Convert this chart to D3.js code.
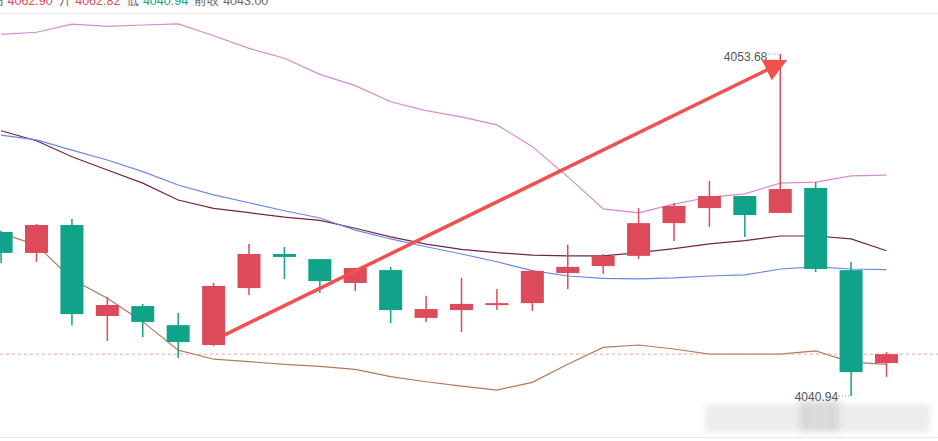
<!DOCTYPE html>
<html><head><meta charset="utf-8">
<script src="https://cdn.jsdelivr.net/npm/d3@7/dist/d3.min.js"></script>
<style>html,body{margin:0;padding:0;background:#fff;overflow:hidden}</style>
</head><body>
<script>
// ---- data ----
const categories = d3.range(26);
const opens  = [4047.05,4046.27,4047.31,4043.92,4044.29,4043.58,4042.84,4044.96,4046.23,4046.04,4045.15,4045.63,4043.85,4044.14,4044.33,4044.40,4045.52,4045.78,4046.16,4047.38,4047.94,4048.39,4047.76,4048.69,4045.63,4042.17];
const highs  = [4047.10,4047.35,4047.53,4044.63,4044.37,4044.03,4045.15,4046.60,4046.49,4046.04,4045.71,4045.75,4044.67,4045.34,4044.93,4045.63,4046.57,4046.23,4047.94,4048.13,4048.95,4048.39,4053.68,4048.91,4045.93,4042.58];
const lows   = [4045.89,4045.93,4043.58,4042.99,4043.14,4042.36,4042.80,4044.70,4045.30,4044.78,4044.85,4043.66,4043.70,4043.32,4044.14,4044.11,4044.93,4045.49,4046.04,4046.71,4047.24,4046.86,4047.76,4045.56,4040.94,4041.65];
const closes = [4046.27,4047.31,4043.99,4044.33,4043.70,4042.95,4045.04,4046.23,4046.12,4045.22,4045.71,4044.14,4044.18,4044.37,4044.40,4045.60,4045.75,4046.16,4047.38,4048.02,4048.39,4047.68,4048.65,4045.67,4041.83,4042.50];
const upperBand = [4054.41,4054.49,4054.79,4054.71,4054.76,4054.80,4054.36,4053.89,4053.52,4052.92,4052.50,4051.90,4051.57,4051.34,4051.04,4050.23,4049.11,4047.91,4047.76,4048.09,4048.35,4048.47,4048.87,4048.91,4049.14,4049.17];
const maLine    = [4050.82,4050.45,4049.85,4049.36,4048.87,4048.24,4047.93,4047.77,4047.60,4047.48,4047.19,4046.87,4046.60,4046.40,4046.28,4046.19,4046.16,4046.16,4046.28,4046.43,4046.61,4046.73,4046.90,4046.90,4046.79,4046.35];
const midBand   = [4050.66,4050.48,4050.10,4049.73,4049.30,4048.80,4048.43,4048.14,4047.84,4047.57,4047.12,4046.79,4046.50,4046.23,4045.94,4045.61,4045.41,4045.32,4045.30,4045.34,4045.41,4045.45,4045.67,4045.75,4045.67,4045.65];
const lowerBand = [4047.00,4046.57,4045.29,4044.58,4043.71,4042.65,4042.31,4042.22,4042.12,4042.04,4041.93,4041.66,4041.47,4041.31,4041.16,4041.45,4042.12,4042.75,4042.84,4042.69,4042.50,4042.50,4042.50,4042.62,4042.20,4042.12];
const lastPrice = 4042.50;
const maxMark = {i: 22, v: 4053.68, label: "4053.68"};
const minMark = {i: 24, v: 4040.94, label: "4040.94"};
const arrowFrom = {i: 6.3, v: 4043.21};
const arrowTo   = {i: 22.08, v: 4053.38};
const headerLabels = ["高", "开", "低", "前收"];
const headerValues = ["4062.90", "4062.82", "4040.94", "4043.00"];
const headerColors = ["#e04b56", "#e04b56", "#13a386", "#666"];

// ---- chart ----
const W = 938, H = 441;
const UP = "#dd4b5b", DOWN = "#10a38a";
const svg = d3.select("body").append("svg").attr("width", W).attr("height", H)
  .style("font-family", "'Noto Sans CJK SC','Noto Sans',Arial,sans-serif");

const x = d3.scaleBand().domain(categories).range([1.1 - 17.71, 886.5 + 17.71])
  .paddingInner(0.35).paddingOuter(0.175);
const cx = i => x(i) + x.bandwidth() / 2;
const xi = d3.scaleLinear().domain([0, 25]).range([cx(0), cx(25)]);
const y = d3.scaleLinear().domain([4040.94, 4053.68]).range([396, 54]);

// defs
const defs = svg.append("defs");
defs.append("filter").attr("id", "blur").attr("x", "-20%").attr("y", "-50%").attr("width", "140%").attr("height", "200%")
  .append("feGaussianBlur").attr("stdDeviation", 3);
defs.append("marker").attr("id", "ah").attr("viewBox", "0 0 10 10").attr("refX", 8).attr("refY", 5)
  .attr("markerWidth", 9).attr("markerHeight", 6.5).attr("markerUnits", "strokeWidth").attr("orient", "auto")
  .append("path").attr("d", "M0,0 L10,5 L0,10 Z").attr("fill", "#f0514f");

// header (clipped at top edge like the reference)
svg.append("line").attr("x1", 0).attr("x2", W).attr("y1", 13.5).attr("y2", 13.5).attr("stroke", "#eee");
const ht = svg.append("g");
let hx = -9;
headerLabels.forEach((lab, k) => {
  const t1 = ht.append("text").attr("x", hx).attr("y", 4.5).attr("font-size", 12.5).attr("fill", "#666").text(lab);
  hx += t1.node().getComputedTextLength() + 4;
  const t2 = ht.append("text").attr("x", hx).attr("y", 4.5).attr("font-size", 12.5)
    .attr("font-family", "Arial, 'Liberation Sans', sans-serif").attr("fill", headerColors[k]).text(headerValues[k]);
  hx += t2.node().getComputedTextLength() + 6;
});

// bottom border
svg.append("line").attr("x1", 0).attr("x2", W).attr("y1", 437.5).attr("y2", 437.5).attr("stroke", "#e6e6e6");

// watermark (blurred)
const wm = svg.append("g").attr("filter", "url(#blur)");
wm.append("rect").attr("x", 705).attr("y", 404).attr("width", 225).attr("height", 28).attr("fill", "#ececec");
[800, 806, 812, 818, 824, 830, 836].forEach((bx, k) =>
  wm.append("rect").attr("x", bx).attr("y", 400).attr("width", 3).attr("height", 32).attr("fill", k % 2 ? "#bbb" : "#ccc"));

// indicator lines
const line = d3.line().x((d, i) => cx(i)).y(d => y(d));
[[upperBand, "#d68ccd"], [maLine, "#74243f"], [midBand, "#6c85e8"], [lowerBand, "#b27a5c"]].forEach(([arr, col]) =>
  svg.append("path").attr("d", line(arr)).attr("fill", "none").attr("stroke", col).attr("stroke-width", 1.2));

// last price dashed line
svg.append("line").attr("x1", 0).attr("x2", W).attr("y1", y(lastPrice)).attr("y2", y(lastPrice))
  .attr("stroke", "#e9a3a3").attr("stroke-width", 1).attr("stroke-dasharray", "3,3");

// candles
const candles = svg.append("g").selectAll("g").data(categories).join("g");
const col = i => closes[i] >= opens[i] ? UP : DOWN;
candles.append("line").attr("x1", i => cx(i)).attr("x2", i => cx(i))
  .attr("y1", i => y(highs[i])).attr("y2", i => y(lows[i]))
  .attr("stroke", col).attr("stroke-width", 1.5);
candles.append("rect").attr("x", i => x(i)).attr("width", x.bandwidth())
  .attr("y", i => y(Math.max(opens[i], closes[i])))
  .attr("height", i => Math.max(2, Math.abs(y(opens[i]) - y(closes[i]))))
  .attr("fill", col);

// max/min markers
function mark(m, dy) {
  const px = cx(m.i), py = y(m.v);
  svg.append("line").attr("x1", px - 12).attr("x2", px).attr("y1", py).attr("y2", py)
    .attr("stroke", "#888").attr("stroke-dasharray", "1,2");
  svg.append("text").attr("x", px - 13).attr("y", py + dy).attr("text-anchor", "end")
    .attr("font-size", 12).attr("fill", "#555").attr("font-family", "Arial, 'Liberation Sans', sans-serif").text(m.label);
}
mark(maxMark, 7);
mark(minMark, 5);

// arrow
svg.append("line").attr("x1", xi(arrowFrom.i)).attr("y1", y(arrowFrom.v))
  .attr("x2", xi(arrowTo.i)).attr("y2", y(arrowTo.v))
  .attr("stroke", "#f0514f").attr("stroke-width", 3.5).attr("marker-end", "url(#ah)");
</script>
</body></html>
